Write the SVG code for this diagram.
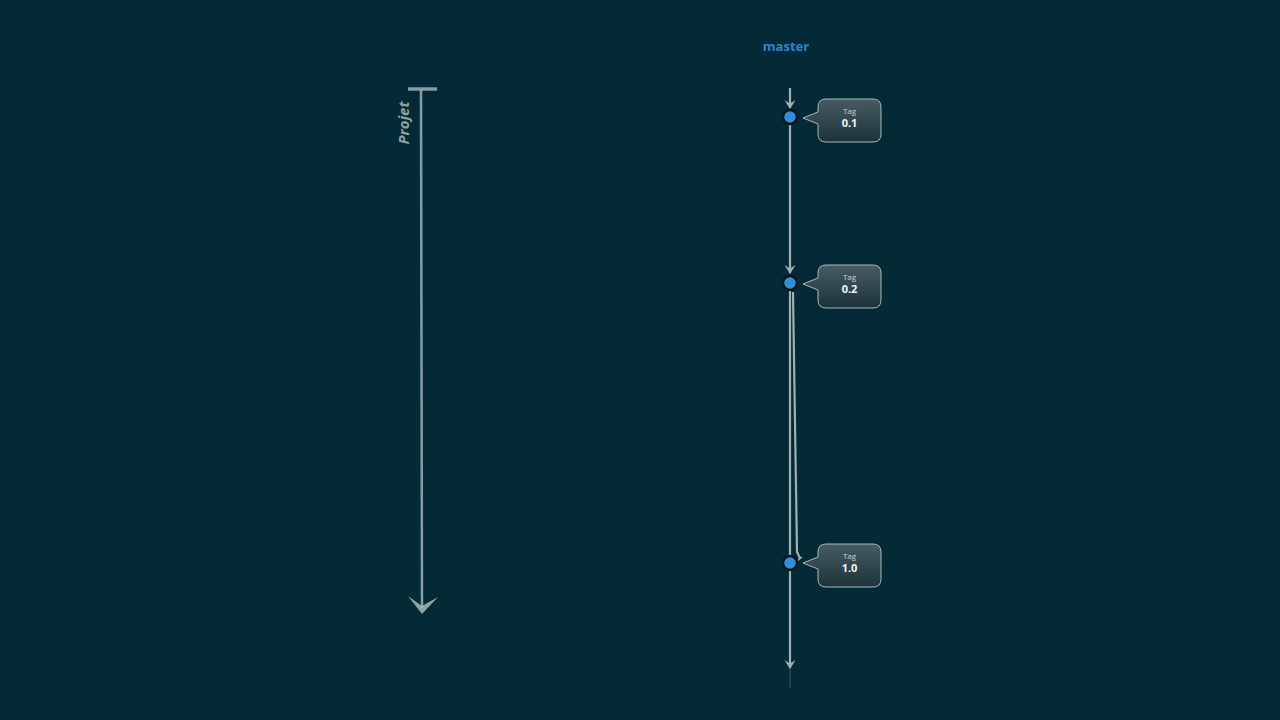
<svg xmlns="http://www.w3.org/2000/svg" width="1280" height="720" viewBox="0 0 1280 720">
<defs>
<linearGradient id="bub" x1="0" y1="0" x2="0" y2="1">
<stop offset="0" stop-color="#465c62"/>
<stop offset="1" stop-color="#1d3339"/>
</linearGradient>
<marker id="arr" viewBox="0 0 12 12" refX="10" refY="6" markerWidth="12" markerHeight="12" markerUnits="userSpaceOnUse" orient="auto">
<path d="M2,0.5 L11,6 L2,11.5 L5.5,6 Z" fill="#9fb0b2"/>
</marker>
</defs>
<style>
.line{stroke:#9fb0b2;stroke-width:2.2;fill:none}
.node{fill:#2f8fd8;stroke:#08161c;stroke-width:2.5}
.bubble{fill:url(#bub);stroke:#a9b9ba;stroke-width:1}
.tag{font-family:"Open Sans","Liberation Sans",sans-serif;font-size:8px;fill:#c9d3d4;text-anchor:middle}
.ver{font-family:"Open Sans","Liberation Sans",sans-serif;font-size:11px;font-weight:bold;fill:#f2f5f5;text-anchor:middle}
</style>
<rect width="1280" height="720" fill="#032a36"/>

<g id="projet">
<path d="M408,89 L437,89" stroke="#a9b9ba" stroke-width="3.5" opacity="0.8"/>
<path d="M421,90 L422,608" stroke="#a9b9ba" stroke-width="2.5" opacity="0.8"/>
<path d="M408,596 L422,614 L438,597 L422,606 Z" fill="#a9b9ba" opacity="0.85"/>
<text transform="translate(409,123) rotate(-90)" font-family="'Open Sans','Liberation Sans',sans-serif" font-size="15" font-weight="bold" font-style="italic" fill="#8fa2a4" text-anchor="middle">Projet</text>
</g>

<g id="master-label">
<text x="786" y="51" font-family="'Open Sans','Liberation Sans',sans-serif" font-size="13" font-weight="bold" fill="#2d88cc" text-anchor="middle">master</text>
</g>

<g id="connectors">
<path class="line" d="M790,88 L790,108" marker-end="url(#arr)"/>
<path class="line" d="M790,124 L790,273" marker-end="url(#arr)"/>
<path class="line" d="M790,290 L790,556"/>
<path class="line" d="M793,292 L797,552 L800,558" stroke-width="1.5"/>
<path d="M797,562 L803,557 L799,557 Z" fill="#9fb0b2"/>
<path class="line" d="M790,570 L790,668" marker-end="url(#arr)"/>
<path d="M790,668 L790,688" stroke="#9fb0b2" stroke-width="1" opacity="0.35"/>
</g>

<g id="tag-0.1">
<circle class="node" cx="790" cy="117" r="7"/>
<path class="bubble" d="M826,99 H873 Q881,99 881,107 V134 Q881,142 873,142 H826 Q818,142 818,134 V124 L803,118 L818,112 V107 Q818,99 826,99 Z"/>
<text class="tag" x="849.5" y="114">Tag</text>
<text class="ver" x="849.5" y="127">0.1</text>
</g>

<g id="tag-0.2">
<circle class="node" cx="790" cy="283" r="7"/>
<path class="bubble" d="M826,265 H873 Q881,265 881,273 V300 Q881,308 873,308 H826 Q818,308 818,300 V290 L803,284 L818,278 V273 Q818,265 826,265 Z"/>
<text class="tag" x="849.5" y="280">Tag</text>
<text class="ver" x="849.5" y="293">0.2</text>
</g>

<g id="tag-1.0">
<circle class="node" cx="790" cy="563" r="7"/>
<path class="bubble" d="M826,544 H873 Q881,544 881,552 V579 Q881,587 873,587 H826 Q818,587 818,579 V569 L803,563 L818,557 V552 Q818,544 826,544 Z"/>
<text class="tag" x="849.5" y="559">Tag</text>
<text class="ver" x="849.5" y="572">1.0</text>
</g>
</svg>
